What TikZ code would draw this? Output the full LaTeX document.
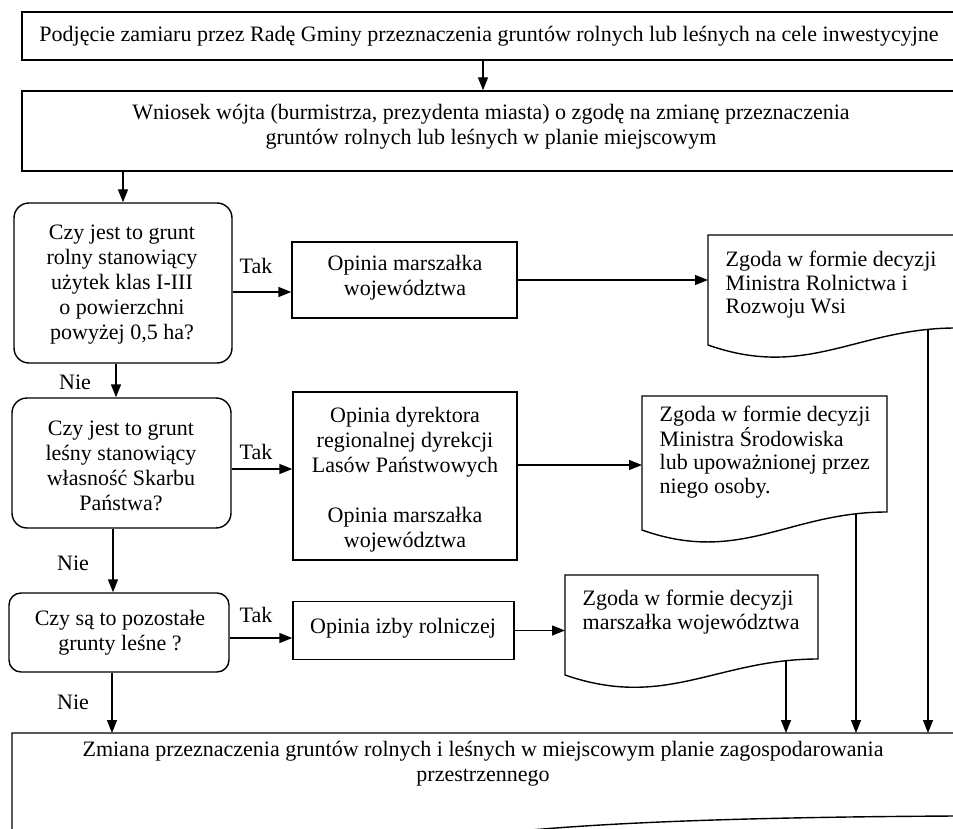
\documentclass[tikz,border=0pt]{standalone}
\usepackage{fontspec}
\setmainfont{Liberation Serif}
\usetikzlibrary{arrows.meta}
\begin{document}
\begin{tikzpicture}[x=1pt,y=-1pt, line width=1.4pt,
  every node/.style={font=\fontsize{22pt}{25pt}\selectfont, text=black},
  box/.style={draw, rectangle, inner sep=0pt, align=center},
  dec/.style={draw, rectangle, rounded corners=15pt, inner sep=0pt, align=center},
  arr/.style={-{Triangle[length=13pt,width=10pt]}},
  lbl/.style={inner sep=0pt},
  doctext/.style={align=left, inner sep=0pt, font=\fontsize{22pt}{23.5pt}\selectfont},
  ctext/.style={align=center, inner sep=0pt}
]
\clip (0,0) rectangle (953,829);

% top boxes
\node[box, minimum width=934pt, minimum height=48pt] (a) at (489,36) {Podjęcie zamiaru przez Radę Gminy przeznaczenia gruntów rolnych lub leśnych na cele inwestycyjne};
\node[box, minimum width=934pt, minimum height=80pt] (b) at (489,131) {};
\node[ctext] (bt) at (491,127) {Wniosek wójta (burmistrza, prezydenta miasta) o zgodę na zmianę przeznaczenia\\gruntów rolnych lub leśnych w planie miejscowym};

% decisions
\node[dec, minimum width=218pt, minimum height=160pt] (d1) at (123,283) {};
\node[ctext] (d1t) at (122,285) {Czy jest to grunt\\rolny stanowiący\\użytek klas I-III\\o powierzchni\\powyżej 0,5 ha?};
\node[dec, minimum width=219pt, minimum height=130pt] (d2) at (121.5,463) {};
\node[ctext] (d2t) at (121,466) {Czy jest to grunt\\leśny stanowiący\\własność Skarbu\\Państwa?};
\node[dec, rounded corners=12pt, minimum width=220pt, minimum height=79pt] (d3) at (119,632.5) {};
\node[ctext] (d3t) at (120,633) {Czy są to pozostałe\\grunty leśne ?};

% opinions
\node[box, minimum width=225pt, minimum height=76pt] (op1) at (404.5,280) {};
\node[ctext] (op1t) at (405,278) {Opinia marszałka\\województwa};
\node[box, minimum width=224pt, minimum height=168pt] (op2) at (405,476) {};
\node[ctext] (op2t) at (405,480) {Opinia dyrektora\\regionalnej dyrekcji\\Lasów Państwowych\\[25pt]Opinia marszałka\\województwa};
\node[box, minimum width=221pt, minimum height=58pt] (op3) at (403.5,630.5) {};
\node[ctext] (op3t) at (403,628) {Opinia izby rolniczej};

% documents
\node[inner sep=0pt, minimum width=248pt, minimum height=110pt, anchor=north west] (doc1) at (708,235) {};
\draw (956,328) .. controls (857,328) and (807,380) .. (708,345) -- (708,235) -- (956,235) -- cycle;
\node[doctext, anchor=west] (doc1t) at (725,285) {Zgoda w formie decyzji\\Ministra Rolnictwa i\\Rozwoju Wsi};

\node[inner sep=0pt, minimum width=245pt, minimum height=134pt, anchor=north west] (doc2) at (642,396) {};
\draw (887,512) .. controls (789,512) and (740,565) .. (642,530) -- (642,396) -- (887,396) -- cycle;
\node[doctext, anchor=west] (doc2t) at (659,452) {Zgoda w formie decyzji\\Ministra Środowiska\\lub upoważnionej przez\\niego osoby.};

\node[inner sep=0pt, minimum width=253pt, minimum height=100pt, anchor=north west] (doc3) at (565,575) {};
\draw (818,659) .. controls (717,659) and (666,710) .. (565,675) -- (565,575) -- (818,575) -- cycle;
\node[doctext, anchor=west] (doc3t) at (582,612) {Zgoda w formie decyzji\\marszałka województwa};

% bottom document
\node[inner sep=0pt, minimum width=944pt, minimum height=90pt, anchor=north west] (bot) at (12,733) {};
\draw (12,850) -- (12,733) -- (956,733) -- (956,816) .. controls (760,817) and (570,822) .. (460,838) -- (12,850);
\node[ctext] (bott) at (483,764) {Zmiana przeznaczenia gruntów rolnych i leśnych w miejscowym planie zagospodarowania\\przestrzennego};

% coordinates for connectors
\coordinate (c483) at (483,0);
\coordinate (c116) at (116,0);
\coordinate (c113) at (113,0);
\coordinate (c112) at (112,0);
\coordinate (r292) at (0,292);
\coordinate (r469) at (0,469);
\coordinate (r638) at (0,638);
\coordinate (r465) at (0,465);
\coordinate (e1) at (928,329);
\coordinate (e2) at (856,513);
\coordinate (e3) at (786,660);

% connectors
\draw[arr] (a.south -| c483) -- (b.north -| c483);
\draw[arr] (b.south -| d1.north) -- (d1.north);
\draw[arr] (d1.south -| c116) -- (d2.north -| c116);
\draw[arr] (d2.south -| c113) -- (d3.north -| c113);
\draw[arr] (d3.south -| c112) -- (bot.north -| c112);
\draw[arr] (d1.east |- r292) -- (op1.west |- r292);
\draw[arr] (d2.east |- r469) -- (op2.west |- r469);
\draw[arr] (d3.east |- r638) -- (op3.west |- r638);
\draw[arr] (op1.east) -- (op1.east -| doc1.west);
\draw[arr] (op2.east |- r465) -- (doc2.west |- r465);
\draw[arr] (op3.east) -- (op3.east -| doc3.west);
\draw[arr] (e1) -- (e1 |- bot.north);
\draw[arr] (e2) -- (e2 |- bot.north);
\draw[arr] (e3) -- (e3 |- bot.north);

% labels
\node[lbl] (t1) at (256,266) {Tak};
\node[lbl] (t2) at (256,452) {Tak};
\node[lbl] (t3) at (256,615) {Tak};
\node[lbl] (n1) at (75,382) {Nie};
\node[lbl] (n2) at (73,563) {Nie};
\node[lbl] (n3) at (73,702) {Nie};
\end{tikzpicture}
\end{document}
